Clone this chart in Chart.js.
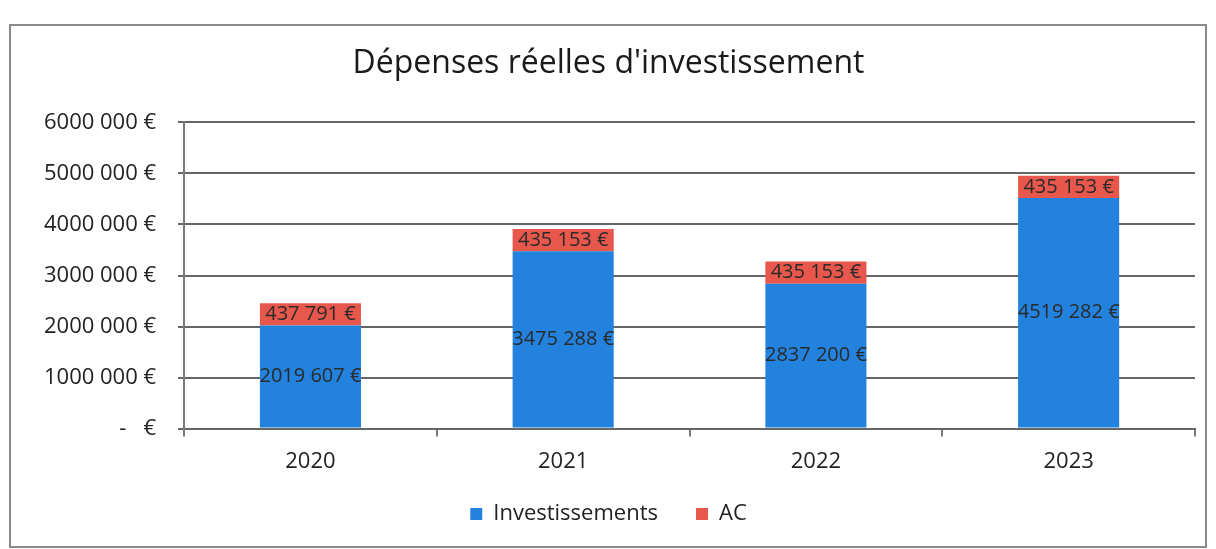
<!DOCTYPE html>
<html>
<head>
<meta charset="utf-8">
<script src="https://cdn.jsdelivr.net/npm/chart.js@4/dist/chart.umd.min.js"></script>
<style>
  html, body { margin: 0; padding: 0; background: #fff; }
  #wrap { width: 1216px; height: 549px; }
</style>
</head>
<body>
<div id="wrap"><canvas id="depChart" width="1216" height="549"></canvas></div>
<script>
// Données
const years = ['2020', '2021', '2022', '2023'];
const investissements = [2019607, 3475288, 2837200, 4519282];
const ac = [437791, 435153, 435153, 435153];
const yTicks = [0, 1000000, 2000000, 3000000, 4000000, 5000000, 6000000];

const fontFamily = "'Open Sans', 'Liberation Sans', sans-serif";

// format "2019 607 €"
function euro(v) {
    if (v === 0) return '-   €';
    const k = Math.floor(v / 1000);
    const r = String(v % 1000).padStart(3, '0');
    return k + ' ' + r + ' €';
}

// cadre autour du graphique
const framePlugin = {
    id: 'frame',
    beforeDraw(chart) {
        const ctx = chart.ctx;
        ctx.save();
        ctx.strokeStyle = '#8a8a8a';
        ctx.lineWidth = 2;
        ctx.strokeRect(10, 25, 1196, 522);
        ctx.restore();
    }
};

// étiquettes au centre des segments
const labelPlugin = {
    id: 'segLabels',
    afterDatasetsDraw(chart) {
        const ctx = chart.ctx;
        ctx.save();
        ctx.font = '20px ' + fontFamily;
        ctx.fillStyle = '#2a2a2a';
        ctx.textAlign = 'center';
        ctx.textBaseline = 'middle';
        chart.data.datasets.forEach((ds, i) => {
            chart.getDatasetMeta(i).data.forEach((bar, j) => {
                const y = (bar.y + bar.base) / 2;
                ctx.fillText(euro(ds.data[j]), bar.x, y);
            });
        });
        ctx.restore();
    }
};

const ctx = document.getElementById('depChart').getContext('2d');
const chart = new Chart(ctx, {
    type: 'bar',
    data: {
        labels: years,
        datasets: [{
            label: 'Investissements',
            data: investissements,
            backgroundColor: '#2382de',
            borderWidth: 0,
            barPercentage: 0.4,
            categoryPercentage: 1
        }, {
            label: 'AC',
            data: ac,
            backgroundColor: '#e8574c',
            borderWidth: 0,
            barPercentage: 0.4,
            categoryPercentage: 1
        }]
    },
    options: {
        responsive: false,
        animation: false,
        layout: {
            padding: { left: 22, right: 21, top: 45, bottom: 14 }
        },
        scales: {
            x: {
                stacked: true,
                offset: true,
                grid: {
                    offset: true,
                    drawOnChartArea: false,
                    drawTicks: true,
                    tickLength: 8,
                    color: '#7a7a7a',
                    lineWidth: 2
                },
                border: { color: '#666', width: 2 },
                ticks: {
                    color: '#222',
                    font: { family: fontFamily, size: 22 },
                    padding: 12
                }
            },
            y: {
                stacked: true,
                min: 0,
                max: 6000000,
                afterBuildTicks(axis) {
                    axis.ticks = yTicks.map(v => ({ value: v }));
                },
                grid: {
                    color: '#666',
                    lineWidth: 2,
                    tickLength: 6
                },
                border: { color: '#7a7a7a', width: 2 },
                ticks: {
                    color: '#222',
                    font: { family: fontFamily, size: 22 },
                    padding: 22,
                    callback: v => euro(v)
                }
            }
        },
        plugins: {
            title: {
                display: true,
                text: "Dépenses réelles d'investissement",
                color: '#1a1a1a',
                font: { family: fontFamily, size: 32, weight: 'normal' },
                padding: { top: 0, bottom: 39 }
            },
            legend: {
                position: 'bottom',
                labels: {
                    color: '#222',
                    font: { family: fontFamily, size: 22 },
                    boxWidth: 12,
                    boxHeight: 12,
                    padding: 16,
                    // un peu plus d'espace entre les deux entrées
                    generateLabels(chart) {
                        const items = Chart.defaults.plugins.legend.labels.generateLabels(chart);
                        items.forEach((it, i) => {
                            if (i < items.length - 1) it.text = it.text + '\u2002\u2002';
                        });
                        return items;
                    }
                }
            },
            tooltip: { enabled: false }
        }
    },
    plugins: [framePlugin, labelPlugin]
});
</script>
</body>
</html>
